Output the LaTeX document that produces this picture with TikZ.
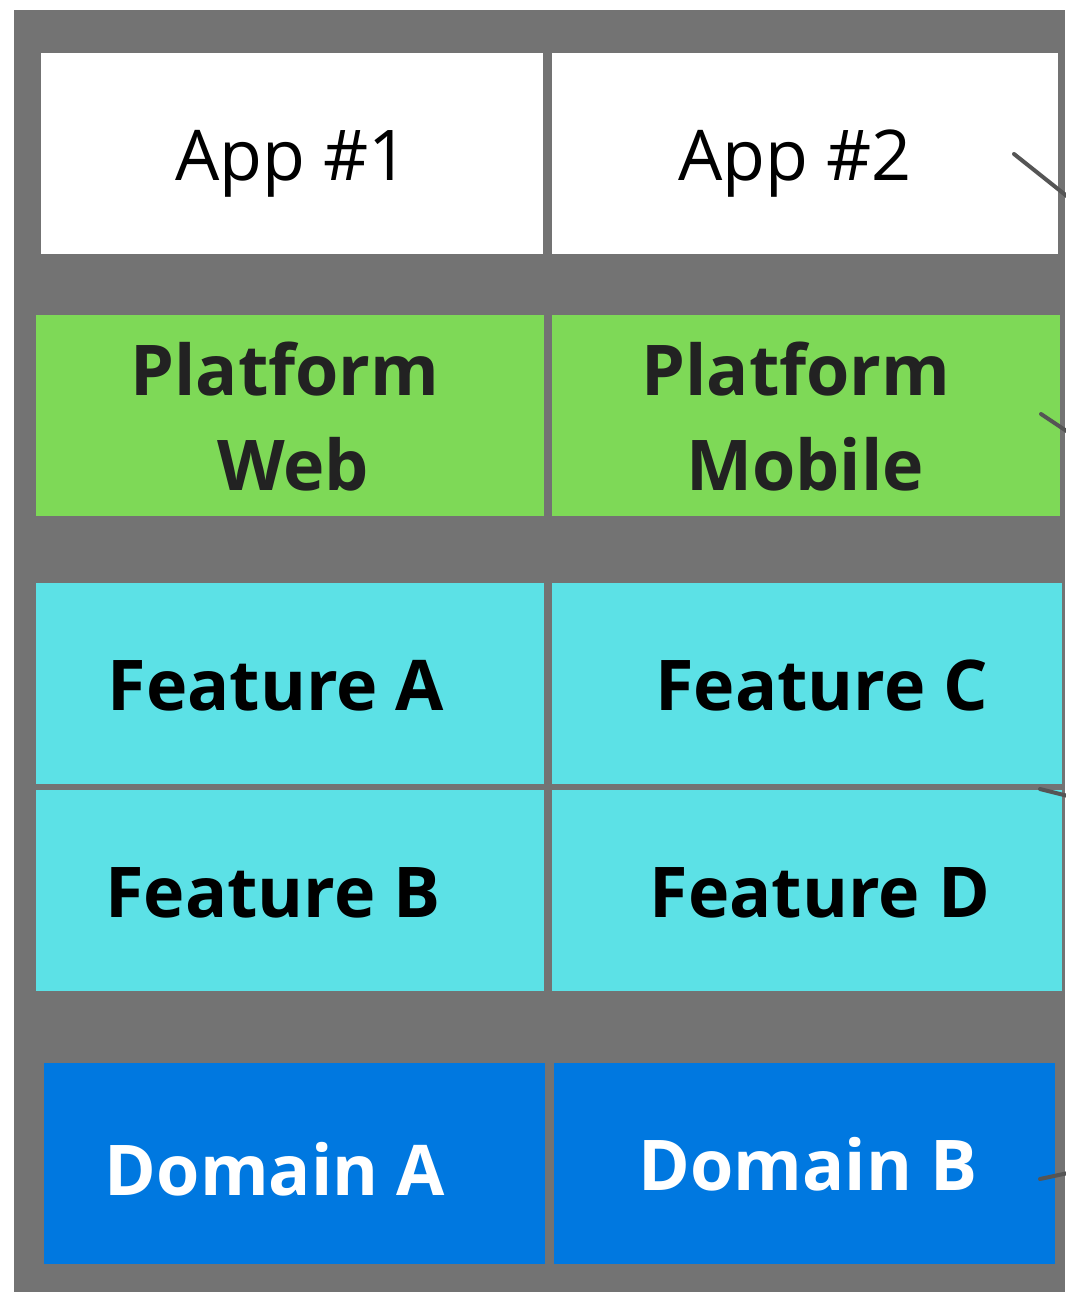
\documentclass[tikz,border=0pt]{standalone}
\usepackage{fontspec}
\setmainfont{Open Sans}
\definecolor{bggray}{HTML}{737373}
\definecolor{plgreen}{HTML}{7ED957}
\definecolor{ftcyan}{HTML}{5CE1E6}
\definecolor{dmblue}{HTML}{0078E0}
\definecolor{dark}{HTML}{222222}
\definecolor{wire}{HTML}{555555}
\begin{document}
\begin{tikzpicture}[x=1pt,y=-1pt,
  cell/.style={draw=none,inner sep=0pt,anchor=north west},
  lbl/.style={inner sep=0pt,anchor=base,font=\fontsize{70}{95}\selectfont},
  boldlbl/.style={lbl,font=\fontsize{70}{95}\selectfont\bfseries},
  wirestyle/.style={draw=wire,line width=4pt,line cap=round}]
\useasboundingbox (0,0) rectangle (1065,1292);
\fill[white] (0,0) rectangle (1065,1292);
\fill[bggray] (14,10) rectangle (1065,1292);
% cells
\node[cell,fill=white,minimum width=502pt,minimum height=201pt] (app1) at (41,53) {};
\node[cell,fill=white,minimum width=506pt,minimum height=201pt] (app2) at (552,53) {};
\node[cell,fill=plgreen,minimum width=508pt,minimum height=201pt] (pweb) at (36,315) {};
\node[cell,fill=plgreen,minimum width=508pt,minimum height=201pt] (pmob) at (552,315) {};
\node[cell,fill=ftcyan,minimum width=508pt,minimum height=201pt] (fa) at (36,583) {};
\node[cell,fill=ftcyan,minimum width=510pt,minimum height=201pt] (fc) at (552,583) {};
\node[cell,fill=ftcyan,minimum width=508pt,minimum height=201pt] (fb) at (36,790) {};
\node[cell,fill=ftcyan,minimum width=510pt,minimum height=201pt] (fd) at (552,790) {};
\node[cell,fill=dmblue,minimum width=501pt,minimum height=201pt] (da) at (44,1063) {};
\node[cell,fill=dmblue,minimum width=501pt,minimum height=201pt] (db) at (554,1063) {};
% texts
\node[lbl] (t1) at (292,181) {App \#1};
\node[lbl] (t2) at (795,181) {App \#2};
\node[boldlbl,text=dark] (t3) at (285,395) {Platform};
\node[boldlbl,text=dark] (t4) at (293,490) {Web};
\node[boldlbl,text=dark] (t5) at (796,395) {Platform};
\node[boldlbl,text=dark] (t6) at (805,490) {Mobile};
\node[boldlbl,text=black] (t7) at (276,710) {Feature A};
\node[boldlbl,text=black] (t8) at (822,710) {Feature C};
\node[boldlbl,text=black] (t9) at (273,917) {Feature B};
\node[boldlbl,text=black] (t10) at (820,917) {Feature D};
\node[boldlbl,text=white] (t11) at (275,1195) {Domain A};
\node[boldlbl,text=white] (t12) at (808,1190) {Domain B};
% connector stubs leaving the picture
\coordinate (w1a) at (1014,154); \coordinate (w1b) at (1068,197);
\coordinate (w2a) at (1041,414); \coordinate (w2b) at (1068,432);
\coordinate (w3a) at (1040,789); \coordinate (w3b) at (1068,796);
\coordinate (w4a) at (1040,1179); \coordinate (w4b) at (1068,1173);
\draw[wirestyle] (w1a) -- (w1b);
\draw[wirestyle] (w2a) -- (w2b);
\draw[wirestyle] (w3a) -- (w3b);
\draw[wirestyle] (w4a) -- (w4b);
\end{tikzpicture}
\end{document}
